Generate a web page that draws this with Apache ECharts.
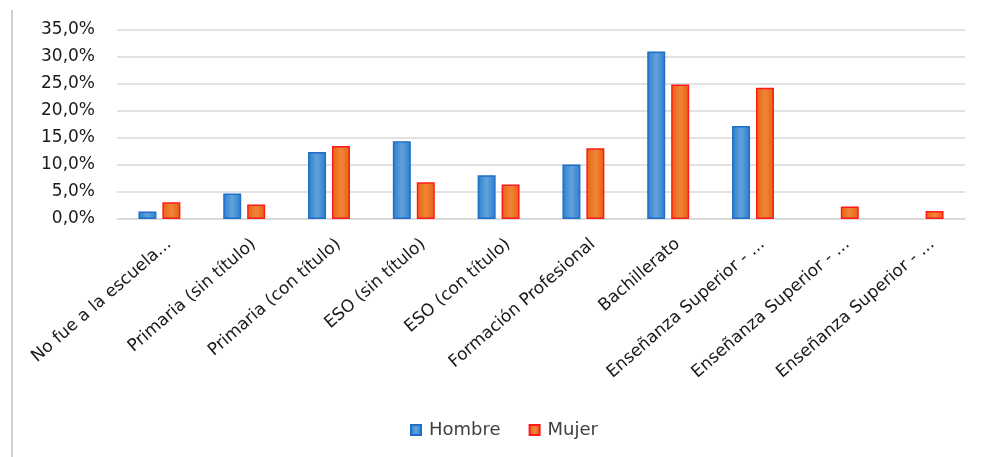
<!DOCTYPE html>
<html>
<head>
<meta charset="utf-8">
<script src="https://cdn.jsdelivr.net/npm/echarts@6/dist/echarts.min.js"></script>
<style>
  html, body { margin: 0; padding: 0; background: #ffffff; }
  #chart { width: 982px; height: 457px; }
</style>
</head>
<body>
<div id="chart"></div>
<script>
// Nivel de estudios por sexo (porcentaje)
const categories = [
  'No fue a la escuela...',
  'Primaria (sin título)',
  'Primaria (con título)',
  'ESO (sin título)',
  'ESO (con título)',
  'Formación Profesional',
  'Bachillerato',
  'Enseñanza Superior - ...',
  'Enseñanza Superior - ...',
  'Enseñanza Superior - ...'
];
const hombre = [1.4, 4.7, 12.4, 14.4, 8.1, 10.1, 31.0, 17.2, 0, 0];
const mujer = [3.1, 2.7, 13.5, 6.8, 6.4, 13.1, 24.9, 24.3, 2.3, 1.5];
const yTicks = { min: 0, max: 35, interval: 5 };

const FONT = 'DejaVu Sans';

// a zero share draws no bar at all (not even its outline)
const asBars = values => values.map(v => (v === 0 ? '-' : v));

function barGradient(edge, mid) {
  return new echarts.graphic.LinearGradient(0, 0, 1, 0, [
    { offset: 0, color: edge },
    { offset: 0.5, color: mid },
    { offset: 1, color: edge }
  ]);
}

const chart = echarts.init(document.getElementById('chart'));
chart.setOption({
  animation: false,
  backgroundColor: '#ffffff',
  textStyle: { fontFamily: FONT },
  graphic: [{
    type: 'rect',
    shape: { x: 11, y: 10, width: 2, height: 447 },
    style: { fill: '#d0d0d0' },
    silent: true
  }],
  grid: { left: 117, right: 17, top: 30, bottom: 238 },
  legend: {
    top: 421,
    left: 410,
    padding: 0,
    itemWidth: 10,
    itemHeight: 10,
    itemGap: 28,
    textStyle: { fontFamily: FONT, fontSize: 18, color: '#404040', padding: [0, 0, 0, 3] },
    data: [
      { name: 'Hombre', icon: 'rect' },
      { name: 'Mujer', icon: 'rect' }
    ]
  },
  xAxis: {
    type: 'category',
    data: categories,
    axisLine: { show: true, lineStyle: { color: '#d9d9d9', width: 1.5 } },
    axisTick: { show: false },
    axisLabel: {
      interval: 0,
      rotate: 41,
      margin: 12,
      verticalAlign: 'top',
      padding: [6, 0, 0, 0],
      fontFamily: FONT,
      fontSize: 17,
      color: '#1a1a1a'
    }
  },
  yAxis: {
    type: 'value',
    min: yTicks.min,
    max: yTicks.max,
    interval: yTicks.interval,
    axisLine: { show: false },
    axisTick: { show: false },
    splitLine: { lineStyle: { color: '#d9d9d9', width: 1.5 } },
    axisLabel: {
      margin: 22,
      fontFamily: FONT,
      fontSize: 17,
      color: '#1a1a1a',
      formatter: v => v.toFixed(1).replace('.', ',') + '%'
    }
  },
  series: [
    {
      name: 'Hombre',
      type: 'bar',
      data: asBars(hombre),
      barWidth: 18,
      barGap: '33%',
      itemStyle: {
        color: barGradient('#2a7fd0', '#62a2da'),
        borderColor: '#1f6fc8',
        borderWidth: 1.5
      }
    },
    {
      name: 'Mujer',
      type: 'bar',
      data: asBars(mujer),
      barWidth: 18,
      itemStyle: {
        color: barGradient('#e8620c', '#ef853a'),
        borderColor: '#ff1a1a',
        borderWidth: 1.5
      }
    }
  ]
});
</script>
</body>
</html>
